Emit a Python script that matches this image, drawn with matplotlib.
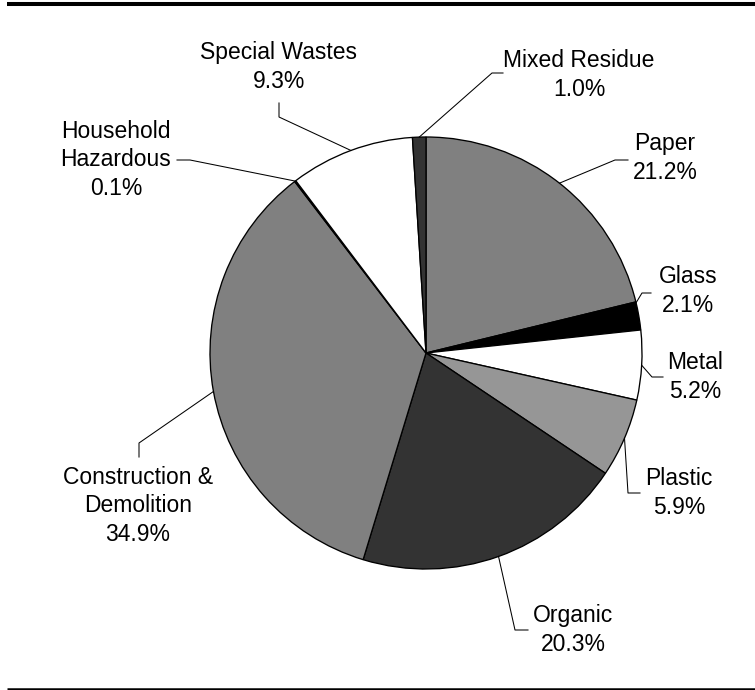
import matplotlib
matplotlib.use("Agg")
import matplotlib.pyplot as plt
import numpy as np

categories = ["Paper", "Glass", "Metal", "Plastic", "Organic",
              "Construction &\nDemolition", "Household\nHazardous",
              "Special Wastes", "Mixed Residue"]
values = [21.2, 2.1, 5.2, 5.9, 20.3, 34.9, 0.1, 9.3, 1.0]
colors = ["#808080", "#000000", "#ffffff", "#969696", "#333333",
          "#808080", "#000000", "#ffffff", "#333333"]

W, H = 755, 690
plt.rcParams['font.family'] = ['Liberation Sans', 'DejaVu Sans']
fig = plt.figure(figsize=(W / 100, H / 100), dpi=100)
ax = fig.add_axes([0, 0, 1, 1])


def Y(y):
    return H - y


cx, cy, R = 426, 353, 216
wedges, _ = ax.pie(values, colors=colors, startangle=90, counterclock=False,
                   radius=R, center=(cx, Y(cy)),
                   wedgeprops=dict(edgecolor='black', linewidth=0.95))
ax.set_xlim(0, W)
ax.set_ylim(0, H)
ax.set_aspect('equal')
ax.axis('off')

# layout: text centre, elbow, end of leader (pixel coords), anchor fraction in wedge
layout = [
    ((665, 158), (615, 160), (628, 160), 0.5),
    ((688, 291), (642, 293), (651, 293), 0.97),
    ((695, 377), (652, 377), (663, 377), 0.5),
    ((679, 493), (628, 493), (640, 493), 0.5),
    ((573, 630), (515, 630), (528, 630), 0.5),
    ((138, 506), (139, 443), (139, 457), 0.5),
    ((116, 160), (190, 160), (177, 160), 0.5),
    ((279, 67), (279, 117), (279, 103), 0.5),
    ((579, 75), (492, 73), (503, 73), 0.5),
]

for w, cat, val, (tc, elbow, end, frac) in zip(wedges, categories, values, layout):
    ang = np.deg2rad(w.theta1 + frac * (w.theta2 - w.theta1))
    ax0 = w.center[0] + w.r * np.cos(ang)
    ay0 = w.center[1] + w.r * np.sin(ang)
    ax.plot([ax0, elbow[0], end[0]], [ay0, Y(elbow[1]), Y(end[1])],
            color='black', lw=0.75, zorder=3)
    ax.text(tc[0], Y(tc[1]), f"{cat}\n{val:.1f}%", ha='center', va='center',
            multialignment='center', fontsize=16.5, linespacing=1.3,
            color='black')

ax.plot([7, W], [Y(4), Y(4)], color='black', lw=2.9, solid_capstyle='butt')
ax.plot([7, W], [Y(688.7), Y(688.7)], color='black', lw=1.8, solid_capstyle='butt')

fig.savefig("out.png", dpi=100)
